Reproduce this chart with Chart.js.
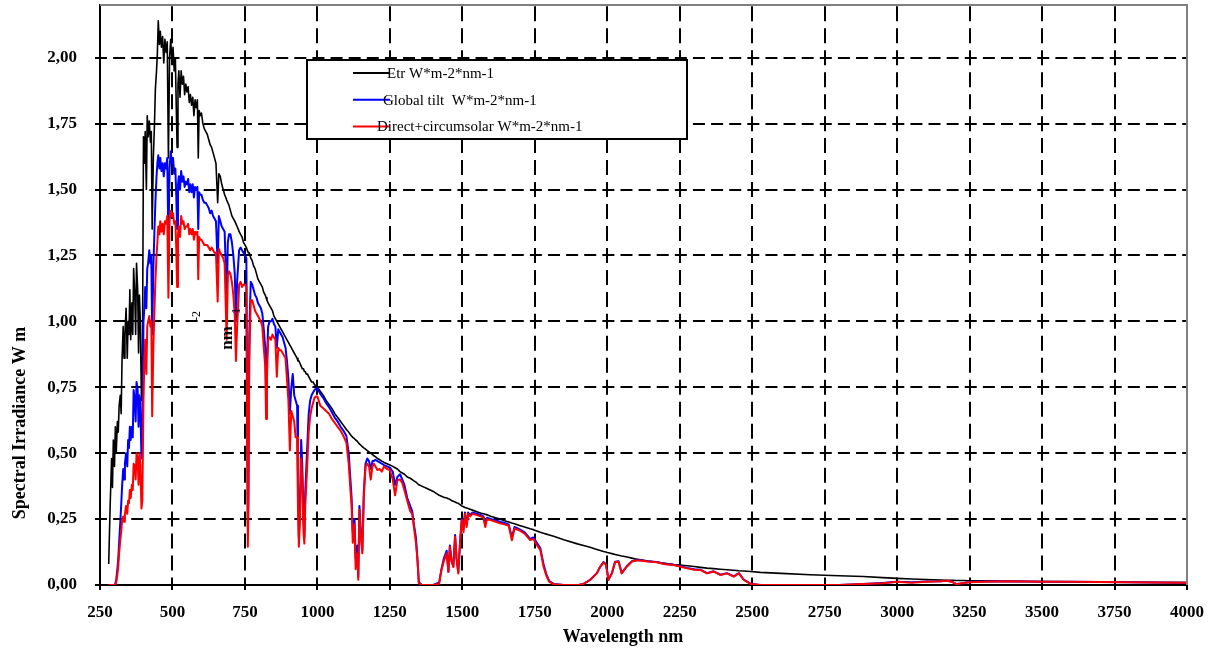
<!DOCTYPE html>
<html>
<head>
<meta charset="utf-8">
<title>Spectral Irradiance</title>
<script src="https://cdn.jsdelivr.net/npm/chart.js@4.4.0/dist/chart.umd.min.js"></script>
<style>
  html, body { margin: 0; padding: 0; background: #fff; }
  #wrap { position: relative; width: 1211px; height: 652px; }
</style>
</head>
<body>
<div id="wrap"><canvas id="spectrum"></canvas></div>
<script>
'use strict';

/* 1. DATA */
const WAVELENGTH_NM = [
  // UV
  280, 285, 290, 293, 296, 300, 303, 306, 310, 313,
  316, 320, 323, 326, 330, 333, 336, 340, 344, 347,
  350, 353, 356, 360, 363, 366, 370, 373, 376, 380,
  383, 386, 389, 393, 396,
  // visible
  400, 403, 406, 410, 413, 416, 420, 424, 427, 430,
  434, 438, 441, 445, 448, 451, 455, 458, 462, 466,
  470, 474, 478, 482, 486, 490, 494, 498, 502, 506,
  510, 513, 516, 519, 522, 526, 530, 534, 538, 542,
  546, 550, 554, 558, 562, 566, 570, 574, 578, 582,
  586, 589, 592, 596, 600, 605, 610, 615, 620, 625,
  630, 635, 640, 645, 650, 656, 660, 665, 670, 675,
  680, 684, 687, 691, 695,
  // 700 - 1000
  700, 705, 710, 715, 719, 723, 727, 730, 735, 740,
  745, 750, 755, 758, 760, 762, 765, 770, 775, 780,
  785, 790, 795, 800, 805, 810, 815, 820, 823, 826,
  830, 835, 840, 845, 850, 855, 860, 865, 870, 875,
  880, 885, 890, 895, 900, 905, 910, 915, 920, 925,
  930, 933, 936, 940, 944, 948, 952, 955, 958, 962,
  966, 970, 975, 980, 985, 990, 995,
  // 1000 - 1400
  1000, 1010, 1020, 1030, 1040, 1050, 1060, 1070, 1080, 1090,
  1100, 1108, 1114, 1118, 1122, 1128, 1132, 1138, 1141, 1145,
  1150, 1155, 1160, 1166, 1172, 1178, 1184, 1190, 1195, 1200,
  1207, 1215, 1222, 1230, 1240, 1250, 1260, 1268, 1276, 1285,
  1293, 1300, 1310, 1320, 1327, 1333, 1340, 1345, 1350, 1360,
  1380, 1400,
  // 1400 - 2000
  1420, 1428, 1436, 1446, 1452, 1457, 1463, 1469, 1475, 1480,
  1486, 1492, 1498, 1504, 1509, 1515, 1520, 1527, 1535, 1550,
  1565, 1573, 1579, 1585, 1600, 1615, 1630, 1645, 1660, 1671,
  1680, 1700, 1715, 1734, 1745, 1757, 1769, 1780, 1790, 1800,
  1815, 1850, 1900, 1918, 1941, 1964, 1976, 1987, 1995,
  // 2000 - 4000
  2000, 2004, 2016, 2027, 2039, 2050, 2060, 2068, 2085, 2100,
  2114, 2140, 2171, 2200, 2229, 2250, 2275, 2300, 2321, 2344,
  2367, 2390, 2413, 2436, 2454, 2471, 2494, 2528, 2600, 2700,
  2800, 2883, 2950, 3000, 3050, 3100, 3150, 3170, 3190, 3204,
  3230, 3251, 3300, 3377, 3450, 3500, 3600, 3700, 3800, 3900,
  4000
];

const ETR = [
  0.08, 0.30, 0.48, 0.37, 0.55, 0.45, 0.60, 0.50, 0.62, 0.58,
  0.68, 0.72, 0.65, 0.85, 0.98, 0.86, 0.95, 1.05, 0.86, 1.00,
  0.95, 1.12, 0.93, 1.07, 0.95, 1.20, 1.10, 0.95, 1.22, 1.12,
  0.88, 1.10, 1.00, 0.70, 0.75,

  1.70, 1.60, 1.72, 1.50, 1.78, 1.70, 1.76, 1.68, 1.72, 1.35,
  1.62, 1.75, 1.88, 1.95, 2.02, 2.14, 2.05, 2.10, 2.04, 2.08,
  1.98, 2.07, 2.02, 2.06, 1.62, 2.00, 2.07, 1.98, 2.04, 1.95,
  2.00, 1.82, 1.66, 1.90, 1.95, 1.85, 1.95, 1.90, 1.93, 1.86,
  1.90, 1.87, 1.89, 1.83, 1.86, 1.82, 1.85, 1.78, 1.84, 1.81,
  1.84, 1.62, 1.80, 1.78, 1.79, 1.75, 1.73, 1.72, 1.71, 1.69,
  1.67, 1.66, 1.64, 1.62, 1.60, 1.45, 1.56, 1.55, 1.52, 1.50,
  1.48, 1.47, 1.46, 1.45, 1.44,

  1.42, 1.40, 1.39, 1.38, 1.37, 1.36, 1.35, 1.34, 1.33, 1.32,
  1.30, 1.29, 1.28, 1.27, 1.27, 1.26, 1.26, 1.24, 1.23, 1.21,
  1.20, 1.18, 1.16, 1.15, 1.14, 1.13, 1.11, 1.10, 1.09, 1.08,
  1.07, 1.06, 1.05, 1.04, 1.02, 1.01, 1.00, 0.99, 0.98, 0.97,
  0.96, 0.95, 0.94, 0.93, 0.92, 0.91, 0.90, 0.89, 0.88, 0.87,
  0.86, 0.85, 0.85, 0.84, 0.83, 0.82, 0.82, 0.81, 0.81, 0.80,
  0.80, 0.79, 0.78, 0.77, 0.77, 0.76, 0.755,

  0.75, 0.735, 0.72, 0.70, 0.685, 0.67, 0.65, 0.635, 0.62, 0.605,
  0.59, 0.58, 0.57, 0.565, 0.56, 0.555, 0.55, 0.545, 0.54, 0.535,
  0.53, 0.525, 0.52, 0.515, 0.51, 0.505, 0.50, 0.495, 0.49, 0.487,
  0.48, 0.475, 0.47, 0.465, 0.46, 0.455, 0.45, 0.445, 0.44, 0.43,
  0.425, 0.42, 0.41, 0.405, 0.40, 0.395, 0.39, 0.385, 0.38, 0.375,
  0.365, 0.355,

  0.34, 0.337, 0.333, 0.33, 0.327, 0.325, 0.32, 0.318, 0.315, 0.312,
  0.31, 0.305, 0.30, 0.297, 0.294, 0.292, 0.29, 0.287, 0.284, 0.278,
  0.272, 0.27, 0.268, 0.266, 0.26, 0.255, 0.25, 0.244, 0.239, 0.235,
  0.232, 0.225, 0.22, 0.213, 0.21, 0.205, 0.20, 0.196, 0.193, 0.19,
  0.185, 0.172, 0.155, 0.15, 0.143, 0.135, 0.131, 0.127, 0.125,

  0.123, 0.122, 0.119, 0.116, 0.113, 0.11, 0.108, 0.106, 0.102, 0.098,
  0.096, 0.091, 0.086, 0.082, 0.078, 0.076, 0.073, 0.07, 0.067, 0.064,
  0.062, 0.06, 0.058, 0.056, 0.054, 0.053, 0.051, 0.048, 0.044, 0.039,
  0.035, 0.032, 0.028, 0.025, 0.023, 0.021, 0.019, 0.018, 0.018, 0.017,
  0.017, 0.016, 0.0155, 0.014, 0.0135, 0.013, 0.012, 0.011, 0.0105, 0.0097,
  0.009
];

const GLOBAL_TILT = [
  0, 0, 0, 0, 0, 0, 0.005, 0.02, 0.06, 0.10,
  0.16, 0.24, 0.30, 0.37, 0.44, 0.40, 0.46, 0.50, 0.45, 0.55,
  0.52, 0.60, 0.55, 0.60, 0.56, 0.74, 0.70, 0.62, 0.77, 0.74,
  0.60, 0.72, 0.70, 0.48, 0.52,

  1.00, 1.05, 1.13, 1.05, 1.20, 1.22, 1.27, 1.22, 1.25, 0.95,
  1.20, 1.35, 1.45, 1.55, 1.60, 1.63, 1.58, 1.62, 1.57, 1.60,
  1.55, 1.60, 1.58, 1.62, 1.30, 1.58, 1.645, 1.60, 1.62, 1.56,
  1.58, 1.48, 1.35, 1.52, 1.55, 1.50, 1.57, 1.53, 1.55, 1.51,
  1.53, 1.52, 1.54, 1.49, 1.52, 1.49, 1.52, 1.47, 1.51, 1.50,
  1.51, 1.35, 1.49, 1.48, 1.48, 1.46, 1.45, 1.45, 1.44, 1.43,
  1.41, 1.42, 1.40, 1.39, 1.38, 1.22, 1.40, 1.38, 1.36, 1.35,
  1.34, 1.20, 1.05, 1.30, 1.33,

  1.33, 1.30, 1.25, 1.18, 1.00, 1.15, 1.22, 1.27, 1.28, 1.27,
  1.26, 1.25, 1.24, 0.60, 0.22, 0.35, 0.95, 1.15, 1.14, 1.12,
  1.10, 1.09, 1.07, 1.06, 1.05, 1.03, 0.97, 0.90, 0.75, 0.85,
  0.98, 1.00, 1.00, 1.01, 0.99, 0.98, 0.90, 0.97, 0.96, 0.95,
  0.94, 0.92, 0.90, 0.85, 0.78, 0.65, 0.75, 0.80, 0.72, 0.70,
  0.68, 0.40, 0.18, 0.30, 0.55, 0.45, 0.25, 0.18, 0.35, 0.45,
  0.55, 0.65, 0.70, 0.72, 0.73, 0.74, 0.745,

  0.745, 0.725, 0.71, 0.69, 0.675, 0.655, 0.635, 0.62, 0.60, 0.585,
  0.565, 0.50, 0.40, 0.33, 0.20, 0.25, 0.10, 0.15, 0.03, 0.30,
  0.20, 0.13, 0.35, 0.46, 0.48, 0.47, 0.44, 0.47, 0.47, 0.475,
  0.47, 0.465, 0.46, 0.455, 0.45, 0.445, 0.43, 0.38, 0.41, 0.42,
  0.40, 0.38, 0.33, 0.30, 0.28, 0.23, 0.18, 0.10, 0.01, 0,
  0, 0,

  0.01, 0.06, 0.10, 0.13, 0.05, 0.15, 0.09, 0.07, 0.19, 0.10,
  0.05, 0.16, 0.25, 0.21, 0.275, 0.23, 0.275, 0.265, 0.275, 0.27,
  0.265, 0.26, 0.23, 0.255, 0.25, 0.245, 0.24, 0.235, 0.23, 0.18,
  0.22, 0.21, 0.20, 0.175, 0.18, 0.16, 0.14, 0.08, 0.04, 0.015,
  0.004, 0, 0, 0.004, 0.02, 0.045, 0.07, 0.087, 0.08,

  0.05, 0.02, 0.045, 0.088, 0.09, 0.045, 0.06, 0.072, 0.09, 0.094,
  0.094, 0.09, 0.087, 0.08, 0.077, 0.072, 0.065, 0.06, 0.058, 0.045,
  0.052, 0.039, 0.045, 0.033, 0.045, 0.02, 0.005, 0, 0, 0,
  0, 0.004, 0.008, 0.012, 0.01, 0.013, 0.014, 0.016, 0.012, 0.003,
  0.008, 0.011, 0.013, 0.014, 0.013, 0.0125, 0.012, 0.011, 0.01, 0.0095,
  0.009
];

const DIRECT_CIRCUMSOLAR = [
  0, 0, 0, 0, 0, 0, 0.002, 0.01, 0.04, 0.07,
  0.12, 0.17, 0.20, 0.24, 0.26, 0.24, 0.27, 0.30, 0.27, 0.32,
  0.31, 0.36, 0.33, 0.38, 0.36, 0.46, 0.45, 0.40, 0.50, 0.48,
  0.38, 0.50, 0.46, 0.29, 0.32,

  0.70, 0.85, 0.93, 0.80, 0.98, 1.00, 1.02, 0.98, 1.00, 0.64,
  0.90, 1.05, 1.15, 1.25, 1.30, 1.36, 1.33, 1.38, 1.34, 1.37,
  1.33, 1.38, 1.37, 1.40, 1.09, 1.38, 1.42, 1.40, 1.41, 1.37,
  1.38, 1.28, 1.13, 1.33, 1.36, 1.32, 1.40, 1.37, 1.38, 1.35,
  1.36, 1.36, 1.37, 1.33, 1.35, 1.33, 1.35, 1.31, 1.34, 1.33,
  1.34, 1.16, 1.32, 1.31, 1.31, 1.30, 1.29, 1.29, 1.29, 1.28,
  1.27, 1.28, 1.27, 1.26, 1.26, 1.075, 1.275, 1.26, 1.25, 1.24,
  1.22, 1.05, 0.93, 1.17, 1.19,

  1.18, 1.15, 1.10, 1.02, 0.85, 0.98, 1.06, 1.14, 1.15, 1.13,
  1.14, 1.14, 1.13, 0.50, 0.145, 0.30, 0.85, 1.08, 1.08, 1.06,
  1.04, 1.03, 1.02, 1.01, 1.00, 0.98, 0.90, 0.83, 0.63, 0.78,
  0.93, 0.94, 0.93, 0.95, 0.94, 0.93, 0.79, 0.90, 0.89, 0.89,
  0.88, 0.87, 0.86, 0.78, 0.70, 0.51, 0.66, 0.64, 0.62, 0.56,
  0.56, 0.30, 0.145, 0.25, 0.48, 0.40, 0.20, 0.157, 0.30, 0.385,
  0.48, 0.58, 0.64, 0.67, 0.69, 0.71, 0.715,

  0.715, 0.68, 0.67, 0.66, 0.65, 0.63, 0.615, 0.60, 0.585, 0.565,
  0.54, 0.46, 0.36, 0.30, 0.16, 0.23, 0.06, 0.12, 0.02, 0.285,
  0.18, 0.12, 0.33, 0.45, 0.46, 0.45, 0.40, 0.45, 0.46, 0.45,
  0.436, 0.44, 0.43, 0.45, 0.44, 0.436, 0.40, 0.34, 0.398, 0.40,
  0.386, 0.36, 0.32, 0.28, 0.27, 0.22, 0.16, 0.10, 0.006, 0,
  0, 0,

  0.005, 0.057, 0.09, 0.12, 0.05, 0.145, 0.09, 0.068, 0.183, 0.10,
  0.044, 0.158, 0.247, 0.20, 0.27, 0.22, 0.27, 0.26, 0.27, 0.265,
  0.26, 0.255, 0.22, 0.25, 0.245, 0.24, 0.234, 0.23, 0.225, 0.17,
  0.215, 0.205, 0.195, 0.17, 0.175, 0.152, 0.133, 0.07, 0.035, 0.012,
  0.003, 0, 0, 0.004, 0.019, 0.044, 0.07, 0.085, 0.078,

  0.05, 0.019, 0.044, 0.087, 0.088, 0.044, 0.06, 0.07, 0.089, 0.093,
  0.093, 0.089, 0.086, 0.079, 0.076, 0.07, 0.063, 0.058, 0.057, 0.044,
  0.051, 0.038, 0.044, 0.032, 0.044, 0.019, 0.004, 0, 0, 0,
  0, 0.004, 0.007, 0.012, 0.009, 0.012, 0.014, 0.016, 0.012, 0.003,
  0.008, 0.01, 0.012, 0.014, 0.013, 0.0125, 0.012, 0.011, 0.01, 0.0095,
  0.009
];

const SERIES_LABELS = ['Etr W*m-2*nm-1', 'Global tilt  W*m-2*nm-1', 'Direct+circumsolar W*m-2*nm-1'];
const SERIES_COLORS = ['#000000', '#0000ff', '#ff0000'];
const SERIES_WIDTHS = [1.6, 2, 2];

const X_MIN = 250, X_MAX = 4000, X_STEP = 250;
const Y_MIN = 0, Y_MAX = 2.2, Y_STEP = 0.25;

/* 2. HELPERS */
const SERIF = '"Liberation Serif", "Times New Roman", serif';

function toPoints(values) {
  return WAVELENGTH_NM.map((w, i) => ({ x: w, y: values[i] }));
}

function fmtComma(v) {
  return v.toFixed(2).replace('.', ',');
}

// fixed plot box: drop the extra room Chart.js keeps for edge labels
function fitBox(size) {
  return s => {
    if (s.isHorizontal()) s.height = size; else s.width = size;
    s.paddingTop = s.paddingBottom = s.paddingLeft = s.paddingRight = 0;
  };
}

/* 3. EXTRAS: frame, legend box, axis titles */
const chartExtras = {
  id: 'chartExtras',
  afterDraw(chart) {
    const { ctx, chartArea: a } = chart;
    ctx.save();

    // grey frame on top and right
    ctx.strokeStyle = '#808080';
    ctx.lineWidth = 2;
    ctx.beginPath();
    ctx.moveTo(a.left, a.top);
    ctx.lineTo(a.right, a.top);
    ctx.lineTo(a.right, a.bottom);
    ctx.stroke();

    // legend box
    const box = { x: 307, y: 60, w: 380, h: 79 };
    ctx.fillStyle = '#fff';
    ctx.fillRect(box.x, box.y, box.w, box.h);
    ctx.strokeStyle = '#000';
    ctx.lineWidth = 2;
    ctx.strokeRect(box.x, box.y, box.w, box.h);

    const textX = [387, 383, 377];
    ctx.font = '15px ' + SERIF;
    ctx.textBaseline = 'middle';
    ctx.textAlign = 'left';
    SERIES_LABELS.forEach((lab, i) => {
      const y = 73 + i * 26.7;
      ctx.strokeStyle = SERIES_COLORS[i];
      ctx.lineWidth = 2;
      ctx.beginPath();
      ctx.moveTo(353, y);
      ctx.lineTo(390, y);
      ctx.stroke();
      ctx.fillStyle = '#000';
      ctx.fillText(lab, textX[i], y + 1);
    });

    // axis titles
    ctx.fillStyle = '#000';
    ctx.font = 'bold 18px ' + SERIF;
    ctx.textAlign = 'center';
    ctx.fillText('Wavelength nm', 623, 637);

    const rotText = (txt, x, y, font) => {
      ctx.save();
      ctx.translate(x, y);
      ctx.rotate(-Math.PI / 2);
      ctx.font = font;
      ctx.fillText(txt, 0, 0);
      ctx.restore();
    };
    rotText('Spectral Irradiance W m', 20, 423, 'bold 18px ' + SERIF);
    // stray superscripts of the original title
    rotText('-2', 197, 316, '12px ' + SERIF);
    rotText('nm', 228, 338, 'bold 17px ' + SERIF);
    rotText('-1', 237, 313, '12px ' + SERIF);

    ctx.restore();
  }
};

/* 4. CHART */
const tickFont = { family: SERIF, size: 17, weight: 'bold' };

const SERIES_VALUES = [ETR, GLOBAL_TILT, DIRECT_CIRCUMSOLAR];

new Chart(document.getElementById('spectrum'), {
  type: 'line',
  data: {
    // Etr drawn first (bottom), direct+circumsolar last (top)
    datasets: SERIES_VALUES.map((vals, i) => ({
      label: SERIES_LABELS[i],
      data: toPoints(vals),
      borderColor: SERIES_COLORS[i],
      borderWidth: SERIES_WIDTHS[i],
      order: 3 - i
    }))
  },
  options: {
    responsive: true,
    maintainAspectRatio: false,
    animation: false,
    layout: { padding: { top: 5, right: 24, left: 0, bottom: 0 } },
    elements: {
      point: { radius: 0 },
      line: { tension: 0, fill: false, borderJoinStyle: 'round' }
    },
    plugins: { legend: { display: false }, tooltip: { enabled: false } },
    scales: {
      x: {
        type: 'linear', min: X_MIN, max: X_MAX,
        ticks: { stepSize: X_STEP, color: '#000', font: tickFont, padding: 12, maxRotation: 0, autoSkip: false,
                 callback: v => String(v) },
        grid: { color: '#000', lineWidth: 2, tickLength: 5, tickColor: '#000', tickWidth: 2 },
        border: { color: '#000', width: 2, dash: [15, 6.97], dashOffset: 20.69 },
        afterFit: fitBox(67)
      },
      y: {
        min: Y_MIN, max: Y_MAX,
        ticks: { stepSize: Y_STEP, includeBounds: false, color: '#000', font: tickFont, padding: 18,
                 callback: v => fmtComma(v) },
        grid: { color: '#000', lineWidth: 2, tickLength: 5, tickColor: '#000', tickWidth: 2 },
        border: { color: '#000', width: 2, dash: [12, 6.12], dashOffset: 6 },
        afterFit: fitBox(100)
      }
    }
  },
  plugins: [chartExtras]
});
</script>
</body>
</html>
